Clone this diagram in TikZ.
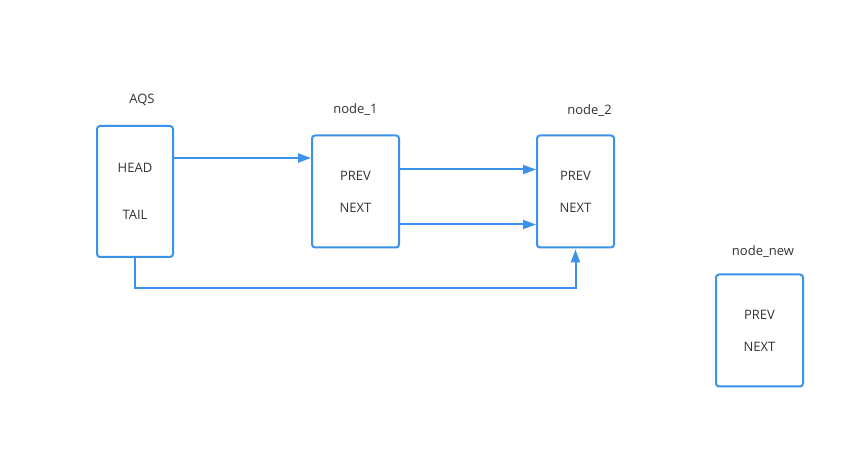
\documentclass[tikz,border=0pt]{standalone}
\usepackage{fontspec}
\setmainfont{Open Sans}
\usepackage{tikz}
\usetikzlibrary{arrows.meta, positioning}
\definecolor{lineblue}{RGB}{58,146,234}
\definecolor{txtgray}{RGB}{51,51,51}

\begin{document}
\begin{tikzpicture}[
            x=1pt, y=1pt,
            box/.style={rectangle, draw=lineblue, line width=2pt, rounded corners=3pt, fill=white, inner sep=0pt},
            field/.style={font=\fontsize{13}{15}\selectfont, text=txtgray, inner sep=0pt},
            title/.style={font=\fontsize{13}{15}\selectfont, text=txtgray, inner sep=0pt, text height=9pt, text depth=2pt},
            arrow/.style={draw=lineblue, line width=2pt, -{Triangle[length=13pt, width=9pt]}}
          ]
  \useasboundingbox (0,0) rectangle (851,449);

  % Nodes
  \node (aqs) [box, minimum width=76pt, minimum height=131pt] at (135,257.5) {};
  \node (n1) [box, minimum width=87pt, minimum height=112pt, right=137pt of aqs] {};
  \node (n2) [box, minimum width=77pt, minimum height=112pt, right=136pt of n1] {};
  \node (nnew) [box, minimum width=87pt, minimum height=112pt, below right=25pt and 100pt of n2] {};

  % Labels
  \node (aqslbl) [title, above=19pt of aqs.north, xshift=7pt] {AQS};
  \node (n1lbl) [title, above=19pt of n1.north] {node\_1};
  \node (n2lbl) [title, above=17.5pt of n2.north, xshift=14pt] {node\_2};
  \node (nnewlbl) [title, above=16pt of nnew.north, xshift=3.5pt] {node\_new};

  % Fields
  \node (head) [field] at ([yshift=23.5pt]aqs.center) {HEAD};
  \node (tail) [field] at ([yshift=-23.5pt]aqs.center) {TAIL};
  \node (n1prev) [field] at ([yshift=16pt]n1.center) {PREV};
  \node (n1next) [field] at ([yshift=-16pt]n1.center) {NEXT};
  \node (n2prev) [field] at ([yshift=16pt]n2.center) {PREV};
  \node (n2next) [field] at ([yshift=-16pt]n2.center) {NEXT};
  \node (nnewprev) [field] at ([yshift=16pt]nnew.center) {PREV};
  \node (nnewnext) [field] at ([yshift=-16pt]nnew.center) {NEXT};

  % Connections
  \draw [arrow] ([yshift=33.5pt]aqs.east) -- ([yshift=33.5pt]aqs.east -| n1.west);
  \draw [arrow] ([yshift=22pt]n1.east) -- ([yshift=22pt]n1.east -| n2.west);
  \draw [arrow] ([yshift=-33pt]n1.east) -- ([yshift=-33pt]n1.east -| n2.west);
  \draw [arrow] (aqs.south) -- ++(0,-30) -| ([yshift=-1pt]n2.south);

\end{tikzpicture}
\end{document}
